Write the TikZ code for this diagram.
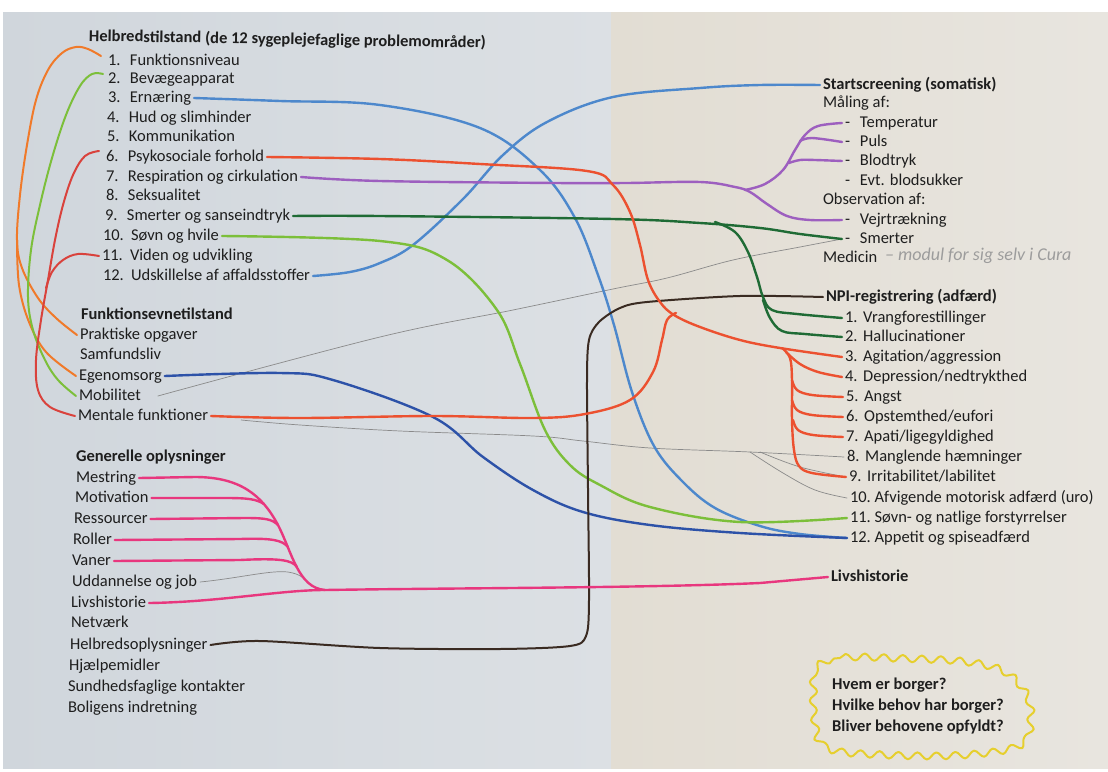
\documentclass[tikz,border=0pt]{standalone}
\usepackage{fontspec}
\setmainfont{Carlito}
\usetikzlibrary{decorations.pathmorphing}
\definecolor{paperL}{HTML}{D0D6DC}
\definecolor{paperLb}{HTML}{DCE0E4}
\definecolor{paperR}{HTML}{E2DDD3}
\definecolor{paperRb}{HTML}{E8E5DF}
\definecolor{cOrange}{HTML}{F07A2A}
\definecolor{cGreen}{HTML}{7CBF3A}
\definecolor{cRedL}{HTML}{D9423C}
\definecolor{cRed}{HTML}{EC5130}
\definecolor{cPurple}{HTML}{9D5FBF}
\definecolor{cDGreen}{HTML}{1F6B35}
\definecolor{cLBlue}{HTML}{4D88CC}
\definecolor{cDBlue}{HTML}{2D52A8}
\definecolor{cBrown}{HTML}{3A2B22}
\definecolor{cPink}{HTML}{E8377E}
\definecolor{cGray}{HTML}{8A8A8A}
\definecolor{cYellow}{HTML}{E6CF2E}
\definecolor{cInk}{HTML}{1E1E1E}
\newcommand\tsz{\fontsize{16.5}{20}\selectfont}
\newcommand\nb[1]{\makebox[1.33em][l]{#1}}
\newcommand\nbb[1]{\makebox[1.7em][l]{#1}}
\newcommand\nr[1]{\makebox[1.1em][l]{#1}}
\newcommand\dsh{\makebox[15pt][l]{-}}
\tikzset{
  txt/.style={anchor=west, inner sep=0pt, outer sep=3pt, font=\tsz, text=cInk, text height=11pt, text depth=3pt},
  ttl/.style={txt, font=\tsz\bfseries},
  mk/.style={line width=2.4pt, line cap=round, line join=round},
  pencil/.style={line width=0.7pt, draw=cGray, line cap=round},
  qtext/.style={align=left, font=\fontsize{16.5}{21}\selectfont\bfseries, inner sep=0pt, text=cInk},
  wavy/.style={draw=cYellow, line width=2pt, line join=round, decorate, decoration={snake, segment length=19pt, amplitude=3.5pt}},
}
\begin{document}
\begin{tikzpicture}[x=1pt,y=-1pt]
\useasboundingbox (0,0) rectangle (1108,771);
\fill[white] (0,0) rectangle (1108,771);
\shade[left color=paperL, right color=paperLb] (3,12) rectangle (611,768);
\shade[left color=paperR, right color=paperRb] (611,12) rectangle (1108,768);

% ---------- left column ----------
\node[ttl, rotate=-1] (h0) at (86,37) {Helbredstilstand (de 12 sygeplejefaglige problemområder)};
\node[txt] (h1) at (105,61) {\nb{1.}Funktionsniveau};
\node[txt] (h2) at (105,79) {\nb{2.}Bevægeapparat};
\node[txt] (h3) at (105,98) {\nb{3.}Ernæring};
\node[txt] (h4) at (104,118) {\nb{4.}Hud og slimhinder};
\node[txt] (h5) at (104,137) {\nb{5.}Kommunikation};
\node[txt] (h6) at (103,157) {\nb{6.}Psykosociale forhold};
\node[txt] (h7) at (103,177) {\nb{7.}Respiration og cirkulation};
\node[txt] (h8) at (103,196) {\nb{8.}Seksualitet};
\node[txt] (h9) at (102,216) {\nb{9.}Smerter og sanseindtryk};
\node[txt] (h10) at (100,236) {\nbb{10.}Søvn og hvile};
\node[txt] (h11) at (99,256) {\nbb{11.}Viden og udvikling};
\node[txt] (h12) at (100,276) {\nbb{12.}Udskillelse af affaldsstoffer};

\node[ttl] (F) at (78,315) {Funktionsevnetilstand};
\node[txt] (f1) at (77,335) {Praktiske opgaver};
\node[txt] (f2) at (77,355) {Samfundsliv};
\node[txt] (f3) at (76,376) {Egenomsorg};
\node[txt] (f4) at (76,396) {Mobilitet};
\node[txt] (f5) at (75,416) {Mentale funktioner};

\node[ttl] (G) at (73,457) {Generelle oplysninger};
\node[txt] (g1) at (73,478) {Mestring};
\node[txt] (g2) at (72,498) {Motivation};
\node[txt] (g3) at (71,519) {Ressourcer};
\node[txt] (g4) at (70,540) {Roller};
\node[txt] (g5) at (69,561) {Vaner};
\node[txt] (g6) at (69,582) {Uddannelse og job};
\node[txt] (g7) at (68,603) {Livshistorie};
\node[txt] (g8) at (68,623) {Netværk};
\node[txt] (g9) at (67,645) {Helbredsoplysninger};
\node[txt] (g10) at (66,666) {Hjælpemidler};
\node[txt] (g11) at (65,687) {Sundhedsfaglige kontakter};
\node[txt] (g12) at (65,708) {Boligens indretning};

% ---------- right column ----------
\node[ttl] (S) at (820,85) {Startscreening (somatisk)};
\node[txt] (sm) at (820,103) {Måling af:};
\node[txt] (s1) at (842,123) {\dsh Temperatur};
\node[txt] (s2) at (842,142) {\dsh Puls};
\node[txt] (s3) at (842,161) {\dsh Blodtryk};
\node[txt] (s4) at (842,181) {\dsh Evt. blodsukker};
\node[txt] (so) at (820,200) {Observation af:};
\node[txt] (s5) at (842,220) {\dsh Vejrtrækning};
\node[txt] (s6) at (842,239) {\dsh Smerter};
\node[txt] (med) at (820,258) {Medicin};
\node[txt, font=\fontsize{18}{20}\selectfont\itshape, text=cGray!85] (hw) at (882,256) {– modul for sig selv i Cura};

\node[ttl] (N) at (823,297) {NPI-registrering (adfærd)};
\node[txt] (n1) at (842,318) {\nr{1.}Vrangforestillinger};
\node[txt] (n2) at (842,337) {\nr{2.}Hallucinationer};
\node[txt] (n3) at (842,357) {\nr{3.}Agitation/aggression};
\node[txt] (n4) at (842,377) {\nr{4.}Depression/nedtrykthed};
\node[txt] (n5) at (843,397) {\nr{5.}Angst};
\node[txt] (n6) at (843,417) {\nr{6.}Opstemthed/eufori};
\node[txt] (n7) at (843,437) {\nr{7.}Apati/ligegyldighed};
\node[txt] (n8) at (844,457) {\nr{8.}Manglende hæmninger};
\node[txt] (n9) at (846,477) {\nr{9.}Irritabilitet/labilitet};
\node[txt] (n10) at (847,498) {10.\ Afvigende motorisk adfærd (uro)};
\node[txt] (n11) at (847,518) {11.\ Søvn- og natlige forstyrrelser};
\node[txt] (n12) at (847,538) {12.\ Appetit og spiseadfærd};

\node[ttl] (L) at (828,577) {Livshistorie};

\node[qtext, anchor=west] (Q) at (832,706) {Hvem er borger?\\Hvilke behov har borger?\\Bliver behovene opfyldt?};
\draw[wavy] plot[smooth cycle, tension=0.6] coordinates {(812,668) (840,658) (900,659) (960,662) (1000,672) (1022,695) (1026,720) (1016,745) (960,755) (880,755) (822,748) (810,720) (809,690)};

% ---------- left arcs ----------
\draw[mk, cOrange, line width=2pt] plot[smooth, tension=0.6] coordinates {([xshift=-4pt,yshift=5pt]h1.west) (88,49) (76,47) (62,53) (48,70) (36,100) (27,145) (20,195) (17,240) (22,268) (38,298) (56,318) (f1.west)};
\draw[mk, cOrange, line width=2pt] plot[smooth, tension=0.6] coordinates {(17,240) (19,285) (29,322) (46,352) (f3.west)};
\draw[mk, cGreen, line width=2pt] plot[smooth, tension=0.6] coordinates {([xshift=-2pt,yshift=5pt]h2.west) (92,74) (80,86) (66,115) (52,158) (40,205) (31,250) (28,297) (33,330) (45,360) (58,380) (f4.west)};
\draw[mk, cRedL, line width=2pt] plot[smooth, tension=0.6] coordinates {([xshift=-4pt,yshift=6pt]h6.west) (85,156) (73,175) (63,205) (55,240) (48,280) (41,320) (36,360) (38,390) (50,407) (f5.west)};
\draw[mk, cRedL, line width=2pt] plot[smooth, tension=0.6] coordinates {(h11.west) (78,254) (63,260) (52,272) (46,288)};

% ---------- thin pencil lines ----------
\draw[pencil] plot[smooth, tension=0.6] coordinates {([xshift=14pt]f4.east) (380,337) (513,310) (613,289) (667,278) (733,260) (800,247) (s6.west)};
\draw[pencil] plot[smooth, tension=0.6] coordinates {([xshift=30pt,yshift=-4pt]f5.east) (300,425) (400,431) (533,436) (583,441) (650,448) (750,452) (n8.west)};
\draw[pencil] plot[smooth, tension=0.6] coordinates {(760,452) (800,467) (n9.west)};
\draw[pencil] plot[smooth, tension=0.6] coordinates {(750,452) (783,473) (815,490) (n10.west)};
\draw[pencil] (g6.east) .. controls (240,578) and (270,570) .. (288,572) .. controls (300,574) and (304,578) .. (308,583);

% ---------- coloured connectors ----------
\draw[mk, cLBlue] plot[smooth, tension=0.6] coordinates {(h3.east) (280,101) (380,105) (480,128) (540,170) (575,218) (598,275) (614,325) (632,392) (654,446) (682,481) (715,508) (760,526) (800,534) (n12.west)};
\draw[mk, cLBlue] plot[smooth, tension=0.6] coordinates {(h12.east) (350,272) (380,263) (413,245) (463,199) (503,155) (547,122) (613,97) (700,88) (760,85) (S.west)};
\draw[mk, cGreen] plot[smooth, tension=0.6] coordinates {(h10.east) (380,241) (447,260) (497,310) (520,364) (545,430) (570,465) (600,485) (650,507) (740,522) (n11.west)};
\draw[mk, cDBlue] plot[smooth, tension=0.6] coordinates {(f3.east) (280,373) (333,380) (433,417) (483,457) (533,490) (583,512) (650,525) (740,533) (n12.west)};
\draw[mk, cBrown, line width=2pt] plot[smooth, tension=0.5] coordinates {(g9.east) (260,641) (380,648) (500,649) (570,646) (586,636) (589,600) (588,489) (587,380) (589,340) (599,322) (620,308) (647,302) (740,296) (N.west)};

% purple
\draw[mk, cPurple] plot[smooth, tension=0.6] coordinates {(h7.east) (380,181) (555,183) (626,183) (700,182) (735,187) (750,192) (767,204) (787,216) (810,220) (s5.west)};
\draw[mk, cPurple] plot[smooth, tension=0.6] coordinates {(745,190) (765,184) (783,170) (795,150) (805,135) (818,126) (s1.west)};
\draw[mk, cPurple] plot[smooth, tension=0.6] coordinates {(800,141) (812,138) (s2.west)};
\draw[mk, cPurple] plot[smooth, tension=0.6] coordinates {(789,163) (800,160) (815,160) (s3.west)};

% dark green
\draw[mk, cDGreen] plot[smooth, tension=0.6] coordinates {(h9.east) (380,216) (613,219) (700,223) (760,228) (800,234) (s6.west)};
\draw[mk, cDGreen] plot[smooth, tension=0.6] coordinates {(715,222) (735,232) (748,252) (757,277) (763,297) (772,310) (797,314) (n1.west)};
\draw[mk, cDGreen] plot[smooth, tension=0.6] coordinates {(763,300) (770,318) (782,331) (805,334) (n2.west)};

% red (psychosocial / mental)
\draw[mk, cRed] plot[smooth, tension=0.6] coordinates {(h6.east) (380,159) (480,164) (587,171) (613,185) (630,212) (640,245) (648,280) (660,302) (674,315) (700,327) (740,340) (780,348) (n3.west)};
\draw[mk, cRed] plot[smooth, tension=0.6] coordinates {(f5.east) (300,418) (433,416) (533,418) (585,414) (630,400) (653,372) (662,340) (667,320) (676,313)};
\draw[mk, cRed] plot[smooth, tension=0.6] coordinates {(782,348) (790,358) (792,380) (792,420) (794,450) (799,466) (812,473) (n9.west)};
\draw[mk, cRed] plot[smooth, tension=0.6] coordinates {(786,352) (800,364) (818,372) (n4.west)};
\draw[mk, cRed] plot[smooth, tension=0.6] coordinates {(792,380) (797,390) (812,395) (n5.west)};
\draw[mk, cRed] plot[smooth, tension=0.6] coordinates {(792,400) (797,410) (812,415) (n6.west)};
\draw[mk, cRed] plot[smooth, tension=0.6] coordinates {(793,420) (798,430) (813,435) (n7.west)};

% pink
\draw[mk, cPink] (g1.east) -- (195,477) .. controls (240,477) and (262,495) .. (278,525)
   .. controls (292,552) and (298,588) .. (325,590) .. controls (450,588) and (650,588) .. (760,583) -- (L.west);
\draw[mk, cPink] (g7.east) .. controls (220,602) and (280,590) .. (325,590);
\draw[mk, cPink] (g2.east) -- (225,498) .. controls (248,498) and (256,499) .. (264,504);
\draw[mk, cPink] (g3.east) -- (245,518) .. controls (265,518) and (272,519) .. (278,525);
\draw[mk, cPink] (g4.east) -- (240,539) .. controls (272,538) and (282,540) .. (288,547);
\draw[mk, cPink] (g5.east) -- (240,560) .. controls (280,558) and (292,560) .. (297,567);
\end{tikzpicture}
\end{document}
